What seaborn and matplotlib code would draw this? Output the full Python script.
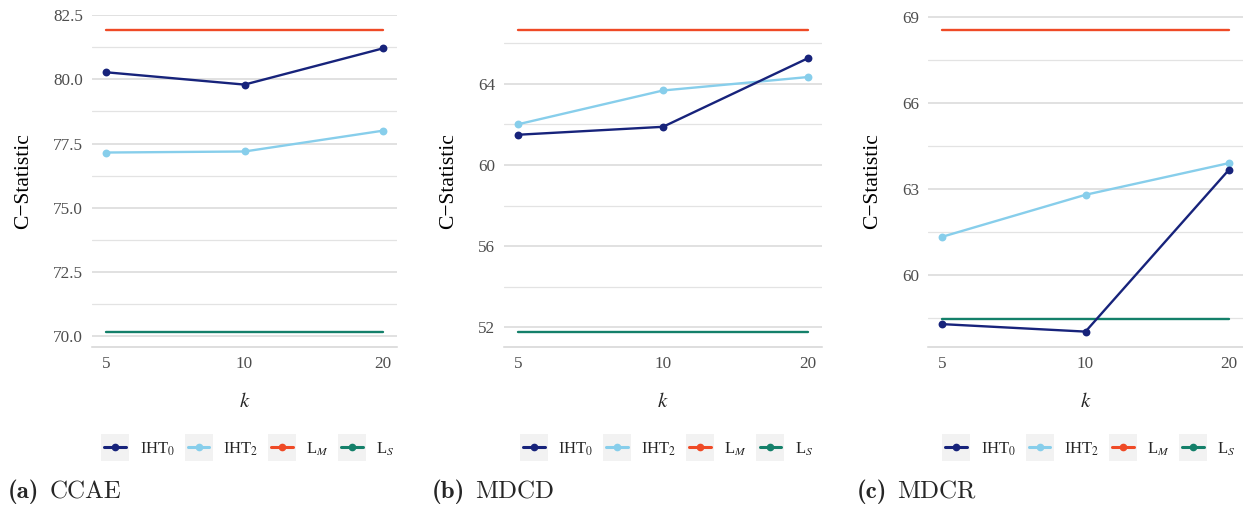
import matplotlib
matplotlib.use('Agg')
import matplotlib.pyplot as plt
import numpy as np
import pandas as pd
import seaborn as sb
from matplotlib.legend_handler import HandlerLine2D
from matplotlib.lines import Line2D
from matplotlib.patches import Rectangle

K = [5, 10, 20]
PANELS = ['CCAE', 'MDCD', 'MDCR']
LETTERS = ['a', 'b', 'c']

# values, one list per panel
IHT0 = {
    'CCAE': [80.27, 79.79, 81.20],
    'MDCD': [61.49, 61.88, 65.25],
    'MDCR': [58.30, 58.04, 63.66],
}
IHT2 = {
    'CCAE': [77.15, 77.19, 78.00],
    'MDCD': [62.01, 63.67, 64.33],
    'MDCR': [61.34, 62.80, 63.90],
}
LM = {'CCAE': 81.92, 'MDCD': 66.66, 'MDCR': 68.54}
LS = {'CCAE': 70.19, 'MDCD': 51.79, 'MDCR': 58.49}

YTICKS = {
    'CCAE': [70.0, 72.5, 75.0, 77.5, 80.0, 82.5],
    'MDCD': [52, 56, 60, 64],
    'MDCR': [60, 63, 66, 69],
}
YFMT = {'CCAE': '%.1f', 'MDCD': '%d', 'MDCR': '%d'}

METHODS = ['IHT0', 'IHT2', 'LM', 'LS']
LABELS = {
    'IHT0': r'IHT$_0$',
    'IHT2': r'IHT$_2$',
    'LM': r'L$_M$',
    'LS': r'L$_S$',
}
COLORS = {
    'IHT0': '#17237B',
    'IHT2': '#87CEEB',
    'LM': '#EF4A26',
    'LS': '#14806A',
}

# axes boxes in figure pixels: left, right
W, H = 1243, 505
BOXES = [(92, 397), (504, 822), (928, 1243)]
TOP, BOTTOM = 14.7, 346.7
CAPX = [8, 432, 857]


class KeyHandler(HandlerLine2D):
    # ggplot style legend key: grey square behind the line
    def create_artists(self, legend, orig_handle, xdescent, ydescent,
                       width, height, fontsize, trans):
        arts = super().create_artists(legend, orig_handle, xdescent, ydescent,
                                      width, height, fontsize, trans)
        side = 19.4
        m = 2.2
        cy = -ydescent + height / 2
        bg = Rectangle((-xdescent - m, cy - side / 2), width + 2 * m, side,
                       facecolor='#F2F2F2', edgecolor='none', transform=trans)
        return [bg] + arts


def build_frame(panel):
    rows = []
    for i, k in enumerate(K):
        rows.append((k, 'IHT0', IHT0[panel][i]))
        rows.append((k, 'IHT2', IHT2[panel][i]))
        rows.append((k, 'LM', LM[panel]))
        rows.append((k, 'LS', LS[panel]))
    return pd.DataFrame(rows, columns=['k', 'method', 'value'])


sb.set_style('white')
plt.rcParams['font.family'] = ['Liberation Serif', 'DejaVu Serif']
plt.rcParams['mathtext.fontset'] = 'stix'

fig = plt.figure(figsize=(W / 100, H / 100), dpi=100)
captions = []

for idx, panel in enumerate(PANELS):
    l, r = BOXES[idx]
    ax = fig.add_axes([l / W, 1 - BOTTOM / H, (r - l) / W, (BOTTOM - TOP) / H])
    df = build_frame(panel)

    for m in ['LM', 'LS', 'IHT2', 'IHT0']:
        sub = df[df.method == m]
        sb.lineplot(data=sub, x='k', y='value', color=COLORS[m], ax=ax,
                    linewidth=1.7, legend=False)
        if m.startswith('IHT'):
            sb.scatterplot(data=sub, x='k', y='value', color=COLORS[m], ax=ax,
                           s=32, linewidth=0, legend=False, zorder=3)

    ax.set_xscale('log', base=2)
    ax.set_xticks(K)
    ax.set_xticklabels([str(k) for k in K])
    ax.minorticks_off()

    ymin, ymax = df.value.min(), df.value.max()
    ypad = (ymax - ymin) * 0.05
    ylo, yhi = ymin - ypad, ymax + ypad
    yt = YTICKS[panel]
    step = yt[1] - yt[0]
    ax.set_yticks(yt)
    ax.set_yticklabels([YFMT[panel] % v for v in yt])
    minor = np.arange(yt[0] - step / 2, yt[-1] + step, step)
    minor = minor[(minor > ylo) & (minor < yhi)]
    ax.set_yticks(minor, minor=True)

    # limits last, set_yticks can widen them
    lo, hi = np.log2(K[0]), np.log2(K[-1])
    pad = (hi - lo) * 0.05
    ax.set_xlim(2 ** (lo - pad), 2 ** (hi + pad))
    ax.set_ylim(ylo, yhi)

    ax.grid(False)
    ax.grid(axis='y', which='major', color='#D9D9D9', linewidth=1.1, zorder=0)
    ax.grid(axis='y', which='minor', color='#E3E3E3', linewidth=0.9, zorder=0)
    ax.set_axisbelow(True)
    for s in ['top', 'right', 'left']:
        ax.spines[s].set_visible(False)
    ax.spines['bottom'].set_color('#D4D4D4')
    ax.spines['bottom'].set_linewidth(1.1)
    ax.tick_params(axis='both', which='both', length=0, labelsize=12.3,
                   labelcolor='#4D4D4D', pad=6.5)

    ax.set_ylabel('C\u2212Statistic', fontsize=15.5, color='black', labelpad=14)
    ax.set_xlabel(r'$k$', fontsize=15, labelpad=15)

    handles = [Line2D([], [], color=COLORS[m], linewidth=2.2, marker='o',
                      markersize=4.5) for m in METHODS]
    ax.legend(handles, [LABELS[m] for m in METHODS], loc='center',
              bbox_to_anchor=(0.5 + 5 / (r - l), (BOTTOM - 449) / (BOTTOM - TOP)),
              ncol=4, frameon=False, fontsize=12, handlelength=1.31,
              handletextpad=0.8, columnspacing=0.75,
              handler_map={Line2D: KeyHandler()})

    t = fig.text(CAPX[idx] / W, 1 - 492 / H, '(%s)' % LETTERS[idx],
                 family='cmb10', fontsize=18, va='center', ha='left')
    captions.append((t, panel))

# put the dataset name right after the bold letter
fig.canvas.draw()
rend = fig.canvas.get_renderer()
for t, panel in captions:
    bb = t.get_window_extent(rend)
    fig.text((bb.x1 + 10) / W, 1 - 492 / H, panel, family='cmr10',
             fontsize=18, va='center', ha='left')

fig.savefig('out.png', dpi=100)
